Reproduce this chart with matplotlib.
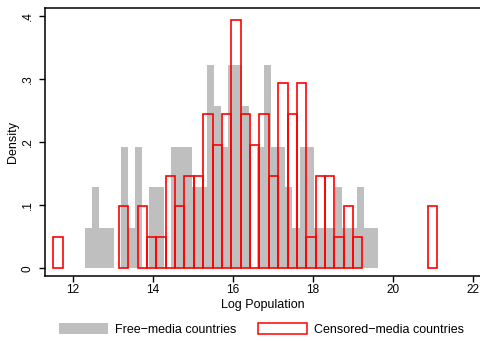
import numpy as np
import matplotlib

matplotlib.use("Agg")
import matplotlib.pyplot as plt
from matplotlib.patches import Patch

# Histogram: bin start, bin width, density per bin
FREE_START = 12.30
FREE_WIDTH = 0.1788
FREE_DENSITY = [
    0.064, 0.129, 0.064, 0.064, 0.0, 0.193, 0.064, 0.193, 0.0, 0.129,
    0.129, 0.0, 0.193, 0.193, 0.193, 0.129, 0.129, 0.322, 0.257, 0.193,
    0.322, 0.322, 0.257, 0.0, 0.193, 0.322, 0.193, 0.193, 0.129, 0.064,
    0.193, 0.193, 0.064, 0.064, 0.064, 0.129, 0.064, 0.064, 0.129, 0.064,
    0.064,
]

CENS_START = 11.508
CENS_WIDTH = 0.2342
CENS_DENSITY = [
    0.049, 0.0, 0.0, 0.0, 0.0, 0.0, 0.0, 0.098, 0.0, 0.098,
    0.049, 0.049, 0.147, 0.098, 0.147, 0.147, 0.245, 0.196, 0.245, 0.393,
    0.245, 0.196, 0.245, 0.147, 0.294, 0.245, 0.294, 0.049, 0.147, 0.147,
    0.049, 0.098, 0.049, 0.0, 0.0, 0.0, 0.0, 0.0, 0.0, 0.0,
    0.098,
]

X_TICKS = [12, 14, 16, 18, 20, 22]
Y_TICKS = [0, 0.1, 0.2, 0.3, 0.4]
Y_TICK_LABELS = ["0", ".1", ".2", ".3", ".4"]

LABELS = ["Free\u2212media countries", "Censored\u2212media countries"]
GRAY = "#bfbfbf"
RED = "#ff0000"

plt.rcParams.update(
    {
        "font.family": ["Liberation Sans", "DejaVu Sans"],
        "axes.linewidth": 1.1,
        "xtick.major.width": 1.0,
        "ytick.major.width": 1.0,
    }
)


def bars(start, width, dens):
    dens = np.asarray(dens, dtype=float)
    left = start + width * np.arange(len(dens))
    keep = dens > 0
    return left[keep], dens[keep]


def main():
    fig = plt.figure(figsize=(4.81, 3.41), dpi=100)
    ax = fig.add_axes([45 / 481, 65 / 341, 435 / 481, 267.7 / 341])

    xl, hl = bars(FREE_START, FREE_WIDTH, FREE_DENSITY)
    ax.bar(xl, hl, width=FREE_WIDTH, align="edge", color=GRAY,
           edgecolor="none", linewidth=0, zorder=1)

    xr, hr = bars(CENS_START, CENS_WIDTH, CENS_DENSITY)
    ax.bar(xr, hr, width=CENS_WIDTH, align="edge", fill=False,
           edgecolor=RED, linewidth=1.2, zorder=2)

    ax.set_xlim(11.3, 22.175)
    ax.set_ylim(-0.0122, 0.412)
    ax.set_xticks(X_TICKS)
    ax.set_yticks(Y_TICKS)
    ax.set_yticklabels(Y_TICK_LABELS, rotation=90, va="center")
    ax.tick_params(axis="both", direction="out", length=4, labelsize=8.5)
    ax.tick_params(axis="x", pad=2)
    ax.tick_params(axis="y", pad=4)
    ax.spines["right"].set_visible(False)

    ax.set_xlabel("Log Population", fontsize=9, labelpad=2)
    ax.set_ylabel("Density", fontsize=9, labelpad=2)

    handles = [
        Patch(facecolor=GRAY, edgecolor="none"),
        Patch(facecolor="white", edgecolor=RED, linewidth=1.1),
    ]
    fig.legend(
        handles, LABELS, loc="center", bbox_to_anchor=(0.544, 0.034),
        ncol=2, frameon=False, fontsize=9, handlelength=3.9,
        handleheight=1.05, handletextpad=0.6, columnspacing=1.7,
    )

    fig.savefig("out.png", dpi=100)
    plt.close(fig)


if __name__ == "__main__":
    main()
